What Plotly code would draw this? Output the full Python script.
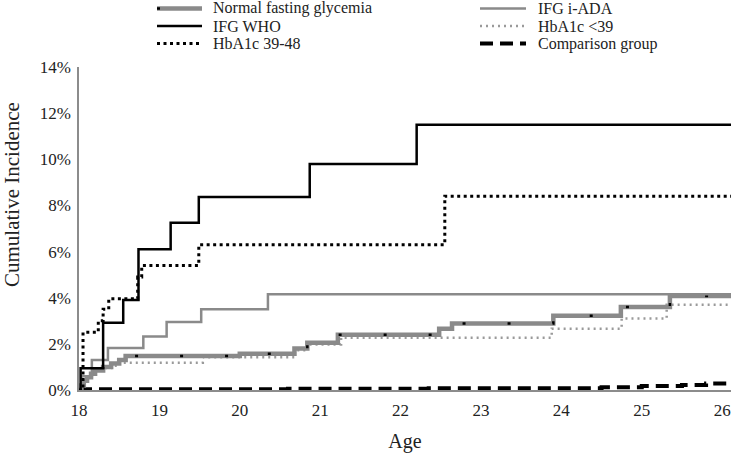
import plotly.graph_objects as go

# ---------------- data (age, cumulative incidence %) ----------------
nfg_age = [18.0, 18.03, 18.06, 18.1, 18.15, 18.2, 18.3, 18.4, 18.5, 18.58, 20.0, 20.68, 20.84, 21.22, 22.48, 22.64, 23.9, 24.74, 25.35, 26.11]
nfg_val = [0.0, 0.2, 0.4, 0.55, 0.7, 0.85, 1.0, 1.15, 1.3, 1.47, 1.57, 1.8, 2.05, 2.4, 2.66, 2.88, 3.22, 3.6, 4.07, 4.07]

who_age = [18.0, 18.02, 18.3, 18.55, 18.74, 19.14, 19.49, 20.87, 22.2, 26.11]
who_val = [0.0, 0.94, 2.92, 3.9, 6.1, 7.25, 8.37, 9.8, 11.5, 11.5]

hb4048_age = [18.0, 18.05, 18.24, 18.3, 18.37, 18.73, 18.78, 19.49, 22.55, 26.11]
hb4048_val = [0.0, 2.5, 3.0, 3.5, 3.95, 4.9, 5.4, 6.3, 8.4, 8.4]

iada_age = [18.0, 18.03, 18.16, 18.36, 18.8, 19.09, 19.52, 20.35, 26.11]
iada_val = [0.0, 0.6, 1.3, 1.82, 2.32, 2.95, 3.5, 4.15, 4.15]

hb39_age = [18.0, 18.03, 18.06, 18.1, 18.15, 18.2, 18.3, 18.4, 18.48, 19.54, 20.68, 20.84, 21.26, 23.88, 24.75, 25.31, 26.11]
hb39_val = [0.0, 0.2, 0.4, 0.55, 0.7, 0.85, 0.95, 1.05, 1.18, 1.42, 1.72, 1.97, 2.27, 2.66, 3.1, 3.7, 3.7]

comp_age = [18.0, 20.6, 22.35, 24.5, 25.0, 25.5, 25.8, 26.11]
comp_val = [0.03, 0.05, 0.08, 0.12, 0.17, 0.22, 0.28, 0.28]

x_ticks = [18, 19, 20, 21, 22, 23, 24, 25, 26]
y_ticks = [0, 2, 4, 6, 8, 10, 12, 14]

series_names = ["Normal fasting glycemia", "IFG WHO", "HbA1c 39-48",
                "IFG i-ADA", "HbA1c <39", "Comparison group"]

FONT = "Liberation Serif"
TXT = "#222222"
GRAY = "#8a8a8a"
LGRAY = "#9a9a9a"

W, H = 731, 453
ML, MR, MT, MB = 79, 0, 67, 63
PW, PH = W - ML - MR, H - MT - MB

fig = go.Figure()

def step(x, y, color, width, dash="solid", name=None):
    fig.add_trace(go.Scatter(x=x, y=y, mode="lines", name=name, showlegend=False,
                             line=dict(color=color, width=width, dash=dash, shape="hv")))

step(comp_age, comp_val, "black", 4, "13px,7px", series_names[5])
step(hb39_age, hb39_val, LGRAY, 2.5, "2px,4px", series_names[4])
step(nfg_age, nfg_val, GRAY, 4.5, "solid", series_names[0])
step(nfg_age, nfg_val, "black", 2.5, "3px,42px", None)
step(iada_age, iada_val, GRAY, 2.5, "solid", series_names[3])
step(hb4048_age, hb4048_val, "black", 3, "3px,3.5px", series_names[2])
step(who_age, who_val, "black", 2.5, "solid", series_names[1])

# ---------------- manual legend ----------------
def px_x(px):
    return (px - ML) / PW

def px_y(py):
    return (H - MB - py) / PH

shapes = []
annotations = []
legend_items = [
    (series_names[0], 157, 202, 211, 8.5, [(GRAY, 4.5, "solid"), ("black", 2.5, "3px,42px")]),
    (series_names[1], 157, 202, 211, 26, [("black", 2.5, "solid")]),
    (series_names[2], 157, 202, 211, 43.5, [("black", 3, "3px,3.5px")]),
    (series_names[3], 480, 526, 536, 8.5, [(GRAY, 2.5, "solid")]),
    (series_names[4], 480, 526, 536, 26, [(LGRAY, 2.5, "2px,4px")]),
    (series_names[5], 480, 526, 536, 43.5, [("black", 4, "13px,7px")]),
]
for name, x0, x1, xt, yy, styles in legend_items:
    for c, w, d in styles:
        shapes.append(dict(type="line", xref="paper", yref="paper",
                           x0=px_x(x0), x1=px_x(x1), y0=px_y(yy), y1=px_y(yy),
                           line=dict(color=c, width=w, dash=d)))
    annotations.append(dict(text=name, xref="paper", yref="paper", x=px_x(xt), y=px_y(yy),
                            xanchor="left", yanchor="middle", showarrow=False,
                            font=dict(family=FONT, size=16, color=TXT)))

# y-axis title
annotations.append(dict(text="Cumulative Incidence", xref="paper", yref="paper",
                        x=px_x(12), y=px_y(195), textangle=-90, xanchor="center", yanchor="middle",
                        showarrow=False, font=dict(family=FONT, size=21, color=TXT)))

fig.update_layout(
    width=W, height=H,
    margin=dict(l=ML, r=MR, t=MT, b=MB, pad=0),
    paper_bgcolor="white", plot_bgcolor="white",
    font=dict(family=FONT, size=17, color=TXT),
    shapes=shapes, annotations=annotations,
    xaxis=dict(range=[18, 26.11], tickvals=x_ticks, ticktext=[str(v) for v in x_ticks],
               showgrid=False, zeroline=False, showline=True, linecolor="#8c8c8c", linewidth=1.5,
               ticks="", ticklabeloverflow="allow", ticklabelstandoff=4,
               tickfont=dict(family=FONT, size=17, color=TXT),
               title=dict(text="Age", font=dict(family=FONT, size=20, color=TXT), standoff=17)),
    yaxis=dict(range=[0, 14], tickvals=y_ticks, ticktext=[f"{v}%" for v in y_ticks],
               showgrid=False, zeroline=False, showline=True, linecolor="#8c8c8c", linewidth=1.5,
               ticks="", ticklabelstandoff=3, tickfont=dict(family=FONT, size=17, color=TXT)),
)

fig.write_html("out.html", config={"displayModeBar": False},
               post_script="document.body.style.margin='0';document.body.style.padding='0';")
